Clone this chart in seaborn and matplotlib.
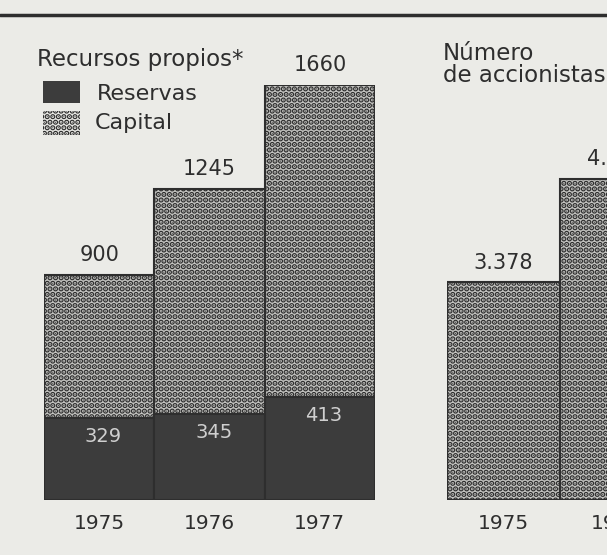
import matplotlib
matplotlib.use("Agg")
import matplotlib.pyplot as plt
from matplotlib.patches import Rectangle
from matplotlib.lines import Line2D
import pandas as pd
import seaborn as sns

sns.set_theme(style="white")
plt.rcParams["font.family"] = ["DejaVu Sans"]
plt.rcParams["hatch.linewidth"] = 2.8

# ============================================================
# DATA
# ============================================================
years = ["1975", "1976", "1977"]
recursos = [900, 1245, 1660]      # recursos propios (total)
reservas = [329, 345, 413]        # reservas (bottom part)

acc_years = ["1975", "1976"]
accionistas = [3378, 4980]        # second label is cut off in the original ("4.")

# ============================================================
# STYLE
# ============================================================
PAPER = "#ebebe7"
INK = "#2e2e2e"
DOTS_FACE = "#c4c4c1"
DARK = "#3c3c3c"
W, H = 607, 555


def px_box(x0, y0, x1, y1):
    # pixel box (origin top-left) -> figure fraction [left, bottom, w, h]
    return [x0 / W, 1 - y1 / H, (x1 - x0) / W, (y1 - y0) / H]


fig = plt.figure(figsize=(W / 100, H / 100), dpi=100, facecolor=PAPER)

# top rule
fig.add_artist(Line2D([0, 1], [1 - 15 / H] * 2, transform=fig.transFigure,
                      color=INK, lw=2.5))

# ------------------------------------------------------------
# (1) Recursos propios
# ------------------------------------------------------------
df_rec = pd.DataFrame({"year": years, "recursos": recursos, "reservas": reservas})

ax = fig.add_axes(px_box(44, 85, 375, 500))
sns.barplot(data=df_rec, x="year", y="recursos", ax=ax, width=1, saturation=1,
            color=DOTS_FACE, edgecolor=INK, linewidth=1.5, hatch="...",
            errorbar=None)
sns.barplot(data=df_rec, x="year", y="reservas", ax=ax, width=1, saturation=1,
            color=DARK, edgecolor=INK, linewidth=1.5, errorbar=None)

for i, v in enumerate(recursos):
    ax.annotate(f"{v}", (i, v), xytext=(0, 7), textcoords="offset points",
                ha="center", va="bottom", fontsize=15, color=INK)
for i, v in enumerate(reservas):
    ax.annotate(f"{v}", (i, v), xytext=(3, -7), textcoords="offset points",
                ha="center", va="top", fontsize=14, color="#cfcfcf")

ax.set_xlim(-0.5, 2.5)
ax.set_ylim(0, 1660)

# ------------------------------------------------------------
# (2) Número de accionistas (cut off on the right)
# ------------------------------------------------------------
df_acc = pd.DataFrame({"year": acc_years, "accionistas": accionistas})

ax2 = fig.add_axes(px_box(447, 152, 786, 500))
sns.barplot(data=df_acc, x="year", y="accionistas", ax=ax2, width=1,
            saturation=1, color=DOTS_FACE, edgecolor=INK, linewidth=1.5,
            hatch="...", errorbar=None)
for i, v in enumerate(accionistas):
    ax2.annotate(f"{v:,}".replace(",", "."), (i, v), xytext=(0, 7),
                 textcoords="offset points", ha="center", va="bottom",
                 fontsize=15, color=INK)
ax2.set_xlim(-0.5, 2.5)
ax2.set_ylim(0, 5400)

for a in (ax, ax2):
    a.set_facecolor("none")
    a.set_xlabel("")
    a.set_ylabel("")
    a.set_yticks([])
    sns.despine(ax=a, left=True, bottom=True)
    a.tick_params(axis="x", length=0, pad=10, labelsize=14.5, labelcolor=INK)

# ------------------------------------------------------------
# titles and legend
# ------------------------------------------------------------
fig.text(37 / W, 1 - 66 / H, "Recursos propios*", fontsize=16.5, color=INK,
         va="baseline")
fig.text(443 / W, 1 - 60 / H, "Número", fontsize=16.5, color=INK, va="baseline")
fig.text(443 / W, 1 - 82 / H, "de accionistas", fontsize=16.5, color=INK,
         va="baseline")

fig.add_artist(Rectangle((43 / W, 1 - 103 / H), 37 / W, 22 / H,
                         transform=fig.transFigure, facecolor=DARK,
                         edgecolor="none"))
fig.add_artist(Rectangle((43 / W, 1 - 135 / H), 37 / W, 24 / H,
                         transform=fig.transFigure, facecolor="none",
                         edgecolor=INK, linewidth=0, hatch="..."))
fig.text(97 / W, 1 - 100 / H, "Reservas", fontsize=16, color=INK, va="baseline")
fig.text(95 / W, 1 - 129 / H, "Capital", fontsize=16, color=INK, va="baseline")

fig.savefig("out.png", dpi=100, facecolor=PAPER)
plt.close(fig)
